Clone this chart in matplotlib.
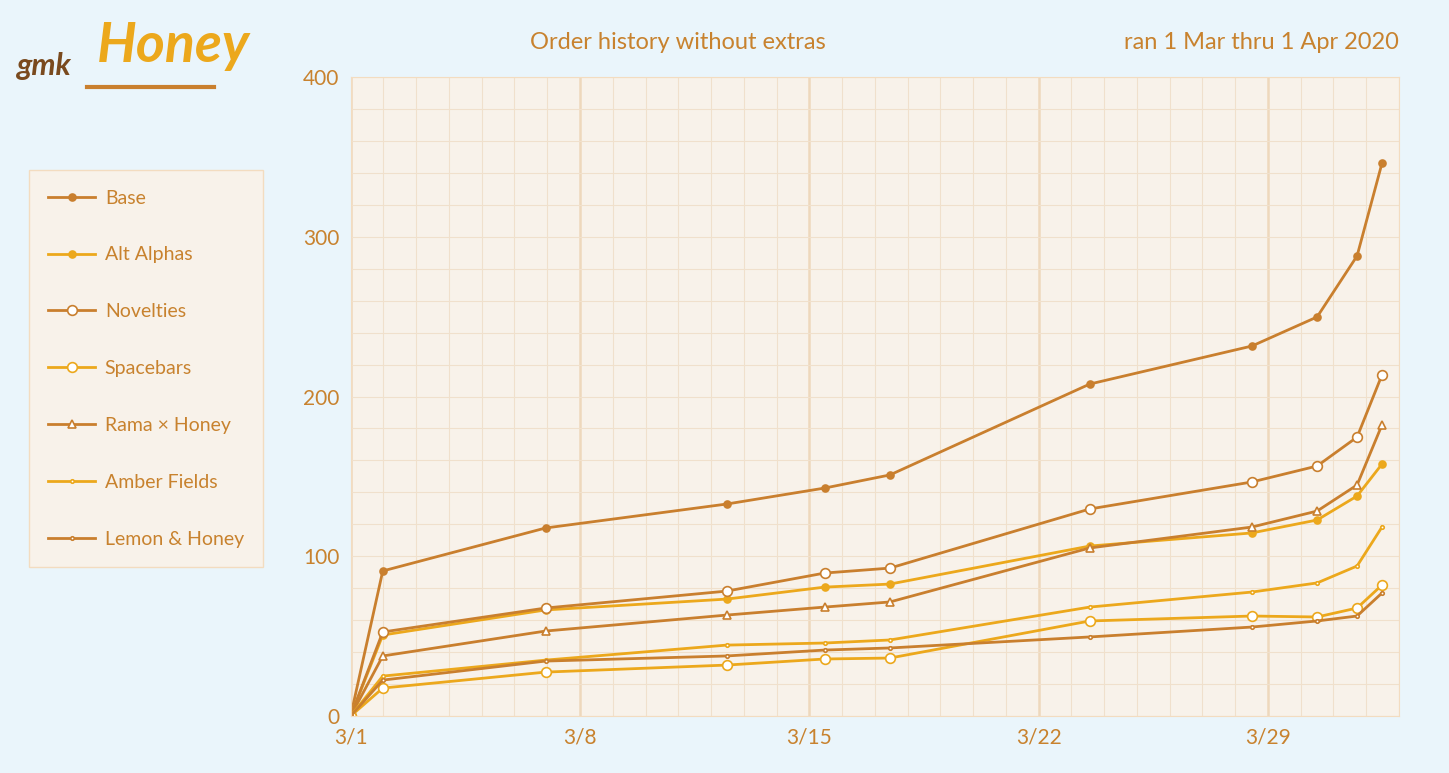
import matplotlib
matplotlib.use("Agg")
import matplotlib.pyplot as plt
from matplotlib.ticker import MultipleLocator

days = [0, 0.98, 5.95, 11.48, 14.47, 16.46, 22.56, 27.51, 29.5, 30.72, 31.48]
base = [0, 90.8, 117.7, 132.7, 142.7, 150.9, 207.8, 231.6, 249.8, 288, 346]
alt_alphas = [0, 50.7, 66.4, 73.2, 80.7, 82.6, 106.4, 114.6, 122.7, 137.7, 157.7]
novelties = [0, 52.6, 67.6, 78.2, 89.5, 92.6, 129.6, 146.5, 156.5, 174.6, 213.5]
spacebars = [0, 17.5, 27.5, 31.9, 35.7, 36.3, 59.5, 62.6, 62, 67.6, 82]
rama = [0, 37.6, 53.2, 63.2, 68.2, 71.4, 105.2, 118.3, 128.3, 144.6, 182.2]
amber = [0, 25, 35, 44.4, 45.7, 47.6, 68.2, 77.6, 83.3, 93.9, 118.3]
lemon = [0, 22.5, 34.4, 37.6, 41.3, 42.6, 49.5, 55.7, 59.5, 62.6, 77]
tick_pos = [0, 7, 14, 21, 28]
tick_labels = ["3/1", "3/8", "3/15", "3/22", "3/29"]

D = "#C97F2E"; Y = "#ECA81C"; TXT = "#C8822E"
plt.rcParams['font.family'] = ['Lato', 'DejaVu Sans']
fig = plt.figure(figsize=(14.49, 7.73), dpi=100, facecolor="#EAF5FB")
ax = fig.add_axes([0.242, 0.0737, 0.7235, 0.8267], facecolor="#F8F2EA")

series = [
    ("Base", base, D, "o", D, 5),
    ("Alt Alphas", alt_alphas, Y, "o", Y, 5),
    ("Novelties", novelties, D, "o", "white", 7),
    ("Spacebars", spacebars, Y, "o", "white", 7),
    ("Rama × Honey", rama, D, "^", "white", 6),
    ("Amber Fields", amber, Y, ".", "white", 5),
    ("Lemon & Honey", lemon, D, ".", "white", 5),
]
for name, vals, c, m, fc, ms in series:
    ax.plot(days, vals, color=c, lw=2, marker=m, markerfacecolor=fc,
            markeredgecolor=c, markersize=ms, markeredgewidth=1.2, label=name)

ax.set_xlim(0, 32)
ax.set_ylim(0, 400)
ax.set_xticks(tick_pos)
ax.set_xticklabels(tick_labels)
ax.xaxis.set_minor_locator(MultipleLocator(1))
ax.yaxis.set_major_locator(MultipleLocator(100))
ax.yaxis.set_minor_locator(MultipleLocator(20))
ax.grid(which="minor", color="#F0E0CC", lw=0.8)
ax.grid(which="major", axis="x", color="#EED8BC", lw=1.8)
ax.grid(which="major", axis="y", color="#F0E0CC", lw=0.8)
ax.set_axisbelow(True)
for s in ax.spines.values():
    s.set_color("#F3DCC0")
ax.tick_params(which="both", length=0, labelsize=15, labelcolor=TXT, pad=8)

leg = fig.legend(loc="upper left", bbox_to_anchor=(0.02, 0.78), fontsize=14,
                 labelcolor=TXT, facecolor="#F8F2EA", edgecolor="#F3DCC0",
                 fancybox=False, framealpha=1, labelspacing=2.05,
                 borderpad=1.0, handlelength=2.4, handletextpad=0.5,
                 borderaxespad=0)

fig.text(0.468, 0.945, "Order history without extras", ha="center", va="center",
         fontsize=17, color=TXT)
fig.text(0.9655, 0.945, "ran 1 Mar thru 1 Apr 2020", ha="right", va="center",
         fontsize=17, color=TXT)
fig.text(0.012, 0.915, "gmk", fontsize=22, color="#7A4A1E", style="italic",
         ha="left", va="center", fontweight="bold")
fig.text(0.067, 0.94, "Honey", fontsize=40, color="#ECA81C", style="italic",
         ha="left", va="center", fontweight="bold")
fig.add_artist(plt.Line2D([0.06, 0.148], [0.888, 0.888], color="#C97F2E", lw=3))

fig.savefig("out.png", dpi=100, facecolor=fig.get_facecolor())
